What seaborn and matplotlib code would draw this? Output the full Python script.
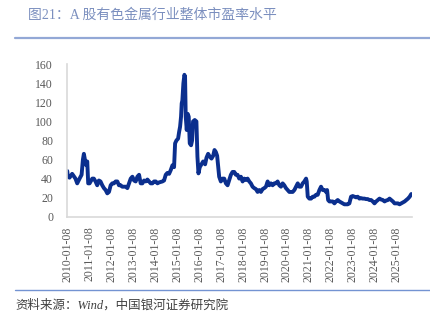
import matplotlib
matplotlib.use("Agg")
import matplotlib.pyplot as plt
import matplotlib.dates as mdates
from matplotlib.lines import Line2D
import seaborn as sns
import pandas as pd

dates = [
    "2010-01-01", "2010-01-12", "2010-02-08", "2010-03-24", "2010-05-18", "2010-06-16",
    "2010-07-25", "2010-08-28", "2010-09-19", "2010-10-05", "2010-10-22", "2010-11-13",
    "2010-11-30", "2010-12-16", "2011-01-08", "2011-02-22", "2011-03-20", "2011-04-17",
    "2011-05-15", "2011-06-12", "2011-07-09", "2011-08-07", "2011-09-04", "2011-10-02",
    "2011-10-30", "2011-11-27", "2011-12-25", "2012-01-21", "2012-02-18", "2012-03-17",
    "2012-04-14", "2012-05-11", "2012-06-08", "2012-07-06", "2012-08-03", "2012-08-31",
    "2012-09-28", "2012-10-26", "2012-11-23", "2012-12-21", "2013-01-17", "2013-02-14",
    "2013-03-14", "2013-04-11", "2013-05-08", "2013-06-05", "2013-07-03", "2013-07-31",
    "2013-08-28", "2013-09-24", "2013-10-22", "2013-11-19", "2013-12-17", "2014-01-14",
    "2014-02-11", "2014-03-10", "2014-05-05", "2014-06-01", "2014-06-29", "2014-07-27",
    "2014-08-24", "2014-09-21", "2014-10-19", "2014-11-15", "2014-12-02", "2014-12-24",
    "2015-01-21", "2015-02-07", "2015-02-23", "2015-03-11", "2015-03-22", "2015-04-02",
    "2015-04-19", "2015-05-06", "2015-05-17", "2015-05-28", "2015-06-14", "2015-06-30",
    "2015-07-17", "2015-08-03", "2015-08-25", "2015-09-11", "2015-09-27", "2015-10-25",
    "2015-11-22", "2015-12-09", "2015-12-26", "2016-01-17", "2016-02-14", "2016-03-13",
    "2016-04-15", "2016-05-08", "2016-06-04", "2016-07-02", "2016-07-30", "2016-08-27",
    "2016-09-18", "2016-10-10", "2016-11-01", "2016-12-05", "2017-01-02", "2017-01-30",
    "2017-02-27", "2017-03-27", "2017-04-24", "2017-05-21", "2017-06-18", "2017-07-16",
    "2017-08-13", "2017-09-09", "2017-10-07", "2017-11-04", "2017-12-02", "2017-12-30",
    "2018-01-26", "2018-02-23", "2018-03-23", "2018-04-20", "2018-05-17", "2018-06-14",
    "2018-07-12", "2018-08-09", "2018-09-06", "2018-10-03", "2018-10-31", "2018-11-28",
    "2018-12-26", "2019-01-23", "2019-02-20", "2019-03-19", "2019-04-16", "2019-05-14",
    "2019-06-11", "2019-07-08", "2019-08-05", "2019-09-02", "2019-09-30", "2019-10-28",
    "2019-11-24", "2019-12-22", "2020-01-19", "2020-02-16", "2020-03-15", "2020-04-12",
    "2020-05-10", "2020-06-07", "2020-07-05", "2020-08-01", "2020-08-29", "2020-09-26",
    "2020-10-24", "2020-11-21", "2020-12-02", "2020-12-19", "2021-01-15", "2021-02-12",
    "2021-03-12", "2021-04-08", "2021-05-06", "2021-06-03", "2021-07-01", "2021-07-28",
    "2021-08-25", "2021-09-22", "2021-10-20", "2021-11-06", "2021-11-23", "2021-12-15",
    "2022-01-11", "2022-02-08", "2022-03-08", "2022-04-04", "2022-05-02", "2022-05-30",
    "2022-06-27", "2022-07-25", "2022-08-21", "2022-09-18", "2022-10-16", "2022-11-12",
    "2022-12-10", "2023-01-07", "2023-02-04", "2023-03-04", "2023-03-31", "2023-04-28",
    "2023-05-26", "2023-06-23", "2023-07-21", "2023-08-17", "2023-09-14", "2023-10-12",
    "2023-11-09", "2023-12-07", "2024-01-04", "2024-02-01", "2024-02-29", "2024-03-28",
    "2024-04-25", "2024-05-23", "2024-06-20", "2024-07-17", "2024-08-14", "2024-09-11",
    "2024-10-09", "2024-11-06", "2024-12-04", "2025-01-01", "2025-01-29", "2025-02-25",
    "2025-03-25", "2025-04-22", "2025-05-20", "2025-06-17", "2025-07-15", "2025-08-12",
    "2025-09-08",
]
pe = [
    48, 42, 41, 45, 40, 35,
    40, 44, 60, 66, 60, 54,
    58, 35, 35, 40, 40, 37,
    33, 38, 37, 33, 30, 28,
    24.5, 26, 33, 35, 35, 37,
    37, 33, 33, 31.5, 31.5, 31.5,
    30, 35, 40, 42, 38, 37,
    42, 44, 35, 35, 38, 37,
    39, 37, 35, 35, 37, 37,
    35, 36, 37, 38, 44, 46,
    45, 49, 54, 52, 77, 80,
    82, 89, 94.5, 105, 119, 122,
    140, 149, 147, 105, 91, 108,
    105, 77, 75, 80, 100, 101.5,
    100, 63, 45.5, 52, 55, 58,
    55, 62, 66, 63, 61, 64,
    70, 68, 64, 42, 37, 40,
    40, 35, 33, 38.5, 44, 47,
    47, 44, 44, 40, 42, 37,
    40, 38.5, 40, 37, 35, 31.5,
    30, 29, 26, 28, 26, 29,
    30, 31.5, 37, 33, 35, 33,
    35, 35, 37, 33, 31.5, 35,
    33, 30, 28, 26, 26, 26,
    28, 31.5, 35, 31.5, 31.5, 35,
    37, 40, 37, 21, 19, 19,
    21, 21, 23, 23, 28, 31.5,
    28, 28, 26, 28, 17.5, 16,
    16, 16, 14, 16, 17.5, 16,
    15, 14, 13, 13, 13, 14,
    21, 21.7, 21, 20.3, 21, 19,
    19.5, 19, 19, 18.5, 18.5, 17.5,
    17.5, 16, 14, 16, 17.5, 19,
    18, 17.5, 16, 17, 17.5, 19,
    17.5, 16, 14, 14, 14, 13,
    14, 15, 16, 17.5, 19, 21,
    23.8,
]
tick_labels = [f"{y}-01-08" for y in range(2010, 2026)]
y_ticks = [0, 20, 40, 60, 80, 100, 120, 140, 160]

title = "图21：A 股有色金属行业整体市盈率水平"
source = "资料来源：Wind，中国银河证券研究院"

sns.set_theme(style="white")
plt.rcParams["font.family"] = ["Liberation Serif", "Noto Sans CJK SC", "DejaVu Sans"]

df = pd.DataFrame({"date": pd.to_datetime(dates), "pe": pe})

fig = plt.figure(figsize=(4.31, 3.23), dpi=100)
ax = fig.add_axes([67 / 431, 1 - 216.7 / 323, (412 - 67) / 431, (216.7 - 64.3) / 323])

sns.lineplot(data=df, x="date", y="pe", ax=ax, color="#0b2f8e", linewidth=2.8)

ax.set_xlim(pd.Timestamp("2009-12-28"), pd.Timestamp("2025-09-20"))
ax.set_ylim(0, 160)
ax.set_yticks(y_ticks)
ax.set_yticklabels([str(v) for v in y_ticks])
tick_dates = pd.to_datetime(tick_labels)
ax.set_xticks(tick_dates)
ax.set_xticklabels(tick_labels, rotation=90)
ax.set_xlabel("")
ax.set_ylabel("")
ax.tick_params(axis="x", length=0, pad=7, labelsize=8.5, labelcolor="#595959")
ax.tick_params(axis="y", length=0, pad=10, labelsize=8.5, labelcolor="#595959")
for s in ["top", "right"]:
    ax.spines[s].set_visible(False)
for s in ["left", "bottom"]:
    ax.spines[s].set_color("#d9d9d9")
    ax.spines[s].set_linewidth(1.2)
ax.grid(False)

fig.text(28 / 431, 1 - 15.5 / 323, title, fontsize=10, color="#7b8fbf",
         ha="left", va="center")
fig.add_artist(Line2D([15 / 431, 1.0], [1 - 38.3 / 323] * 2, color="#93a8d6", linewidth=1.6))
fig.add_artist(Line2D([15 / 431, 1.0], [1 - 290 / 323] * 2, color="#7393d2", linewidth=1.0))
fig.text(15 / 431, 1 - 305 / 323, source, fontsize=9, color="#404040",
         ha="left", va="center", style="italic")

fig.savefig("out.png", dpi=100)
